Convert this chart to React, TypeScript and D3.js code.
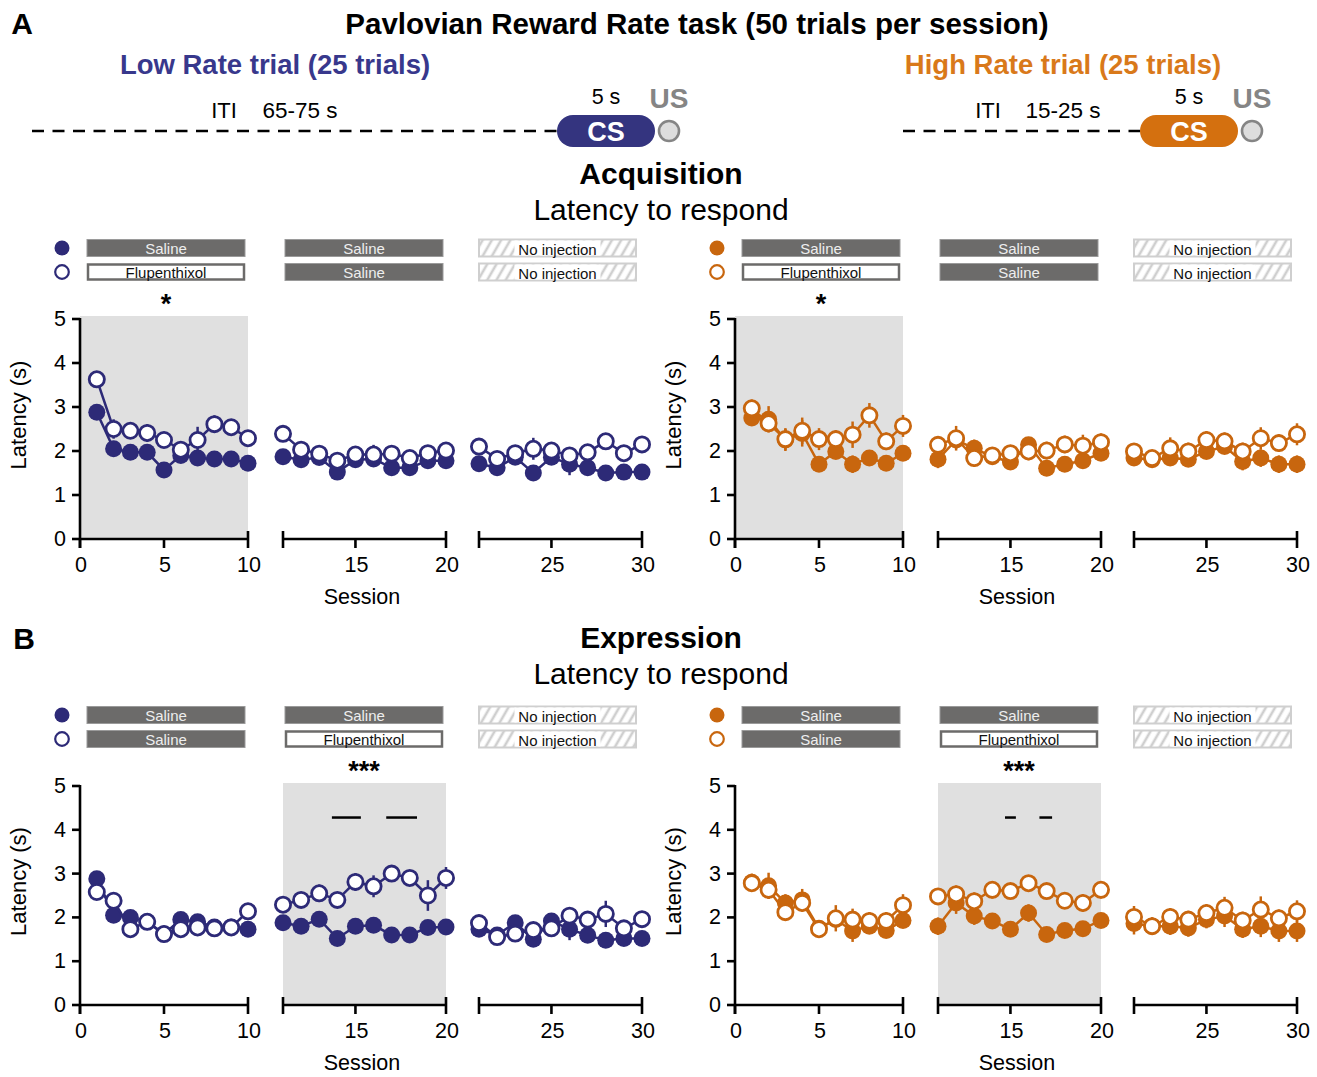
import React from 'react';
import * as d3 from 'd3';

// session categories
const sessions = d3.range(1, 31);

// Acquisition, Low Rate trial
const acqLowSal = [2.88, 2.05, 1.97, 1.97, 1.57, 1.9, 1.84, 1.82, 1.82, 1.72, 1.87, 1.8, 1.85, 1.52, 1.8, 1.82, 1.62, 1.62, 1.78, 1.78, 1.71, 1.62, 1.86, 1.5, 1.86, 1.7, 1.62, 1.5, 1.52, 1.52];
const acqLowFlu = [3.63, 2.5, 2.46, 2.41, 2.25, 2.03, 2.25, 2.61, 2.54, 2.29, 2.39, 2.03, 1.94, 1.78, 1.92, 1.92, 1.94, 1.84, 1.95, 2.01, 2.1, 1.82, 1.95, 2.05, 2.01, 1.9, 1.97, 2.22, 1.95, 2.15];
const acqLowSalSem = [0.12, 0.1, 0.1, 0.1, 0.1, 0.1, 0.1, 0.1, 0.1, 0.1, 0.1, 0.1, 0.1, 0.1, 0.1, 0.1, 0.1, 0.1, 0.1, 0.1, 0.1, 0.1, 0.1, 0.1, 0.1, 0.25, 0.1, 0.1, 0.1, 0.1];
const acqLowFluSem = [0.1, 0.22, 0.12, 0.2, 0.15, 0.12, 0.3, 0.2, 0.15, 0.12, 0.1, 0.1, 0.1, 0.12, 0.15, 0.22, 0.12, 0.1, 0.12, 0.12, 0.1, 0.1, 0.12, 0.25, 0.12, 0.1, 0.12, 0.15, 0.12, 0.12];

// Acquisition, High Rate trial
const acqHighSal = [2.75, 2.72, 2.25, 2.4, 1.7, 1.99, 1.7, 1.84, 1.72, 1.95, 1.81, 2.25, 2.06, 1.87, 1.75, 2.14, 1.61, 1.7, 1.78, 1.95, 1.84, 1.8, 1.84, 1.81, 1.99, 2.1, 1.76, 1.84, 1.7, 1.7];
const acqHighFlu = [2.97, 2.63, 2.27, 2.46, 2.27, 2.27, 2.37, 2.81, 2.22, 2.57, 2.14, 2.29, 1.84, 1.9, 1.95, 1.99, 2.01, 2.15, 2.12, 2.2, 1.99, 1.84, 2.06, 1.99, 2.25, 2.22, 1.99, 2.29, 2.18, 2.38];
const acqHighSalSem = [0.18, 0.3, 0.25, 0.3, 0.15, 0.15, 0.2, 0.15, 0.15, 0.15, 0.2, 0.2, 0.2, 0.15, 0.15, 0.15, 0.15, 0.15, 0.15, 0.15, 0.15, 0.15, 0.15, 0.15, 0.15, 0.15, 0.2, 0.2, 0.2, 0.2];
const acqHighFluSem = [0.2, 0.2, 0.25, 0.3, 0.25, 0.2, 0.3, 0.28, 0.2, 0.25, 0.2, 0.28, 0.2, 0.15, 0.15, 0.2, 0.2, 0.2, 0.25, 0.2, 0.15, 0.15, 0.25, 0.2, 0.2, 0.2, 0.2, 0.25, 0.2, 0.25];

// Expression, Low Rate trial
const expLowSal = [2.88, 2.05, 2.0, 1.9, 1.62, 1.95, 1.9, 1.78, 1.78, 1.73, 1.88, 1.8, 1.96, 1.52, 1.8, 1.82, 1.6, 1.6, 1.77, 1.78, 1.73, 1.6, 1.88, 1.5, 1.92, 1.73, 1.59, 1.48, 1.52, 1.52];
const expLowFlu = [2.58, 2.38, 1.73, 1.9, 1.62, 1.73, 1.77, 1.75, 1.77, 2.14, 2.29, 2.4, 2.55, 2.4, 2.81, 2.71, 3.0, 2.9, 2.5, 2.9, 1.87, 1.55, 1.63, 1.71, 1.75, 2.04, 1.95, 2.08, 1.75, 1.96];
const expLowSalSem = [0.15, 0.1, 0.12, 0.12, 0.1, 0.12, 0.12, 0.1, 0.1, 0.1, 0.12, 0.1, 0.12, 0.1, 0.1, 0.1, 0.1, 0.1, 0.1, 0.12, 0.1, 0.1, 0.12, 0.1, 0.12, 0.25, 0.1, 0.1, 0.1, 0.1];
const expLowFluSem = [0.12, 0.12, 0.1, 0.15, 0.1, 0.12, 0.1, 0.1, 0.1, 0.15, 0.12, 0.12, 0.2, 0.15, 0.2, 0.25, 0.15, 0.15, 0.35, 0.25, 0.1, 0.1, 0.1, 0.1, 0.12, 0.15, 0.1, 0.3, 0.12, 0.12];

// Expression, High Rate trial
const expHighSal = [2.8, 2.72, 2.33, 2.4, 1.75, 1.95, 1.69, 1.8, 1.7, 1.93, 1.8, 2.33, 2.03, 1.92, 1.73, 2.1, 1.61, 1.7, 1.74, 1.93, 1.86, 1.8, 1.8, 1.76, 1.95, 2.03, 1.73, 1.8, 1.69, 1.69];
const expHighFlu = [2.78, 2.63, 2.12, 2.33, 1.73, 1.98, 1.95, 1.92, 1.92, 2.28, 2.48, 2.53, 2.37, 2.63, 2.6, 2.78, 2.6, 2.38, 2.33, 2.63, 2.01, 1.8, 2.01, 1.95, 2.1, 2.22, 1.93, 2.18, 1.98, 2.14];
const expHighSalSem = [0.2, 0.3, 0.2, 0.25, 0.15, 0.15, 0.25, 0.15, 0.15, 0.15, 0.2, 0.25, 0.2, 0.15, 0.15, 0.2, 0.15, 0.15, 0.15, 0.15, 0.25, 0.2, 0.2, 0.2, 0.2, 0.25, 0.2, 0.25, 0.25, 0.25];
const expHighFluSem = [0.15, 0.2, 0.2, 0.2, 0.2, 0.3, 0.25, 0.2, 0.2, 0.25, 0.15, 0.2, 0.2, 0.2, 0.15, 0.15, 0.15, 0.15, 0.2, 0.2, 0.25, 0.2, 0.2, 0.2, 0.2, 0.25, 0.2, 0.3, 0.2, 0.25];

// legend labels per block (filled row / open row)
const acqFilledLabels = ['Saline', 'Saline', 'No injection'];
const acqOpenLabels = ['Flupenthixol', 'Saline', 'No injection'];
const expFilledLabels = ['Saline', 'Saline', 'No injection'];
const expOpenLabels = ['Saline', 'Flupenthixol', 'No injection'];

// session blocks (axis domain + ticks)
const blockDomains = [[0, 10], [11, 20], [21, 30]];
const blockTicks = [[0, 5, 10], [11, 15, 20], [21, 25, 30]];
const yTicks = [0, 1, 2, 3, 4, 5];

// significance bars in expression (session ranges), and their level
const sigLow = [[13.7, 15.3], [16.7, 18.4]];
const sigHigh = [[14.7, 15.3], [16.6, 17.3]];
const sigLevel = 4.28;

const NAVY = '#2d2a77';
const NAVY_TXT = '#38388c';
const ORANGE = '#c8660e';
const ORANGE_TXT = '#d9791a';
const FONT = '"Liberation Sans", Arial, sans-serif';
const BAR_GRAY = '#6c6b6a';

const segPx = [[80, 248], [283, 446], [479, 642]];
const legendPx = [[87, 245], [285, 443], [479, 636]];

function LegendBar({ x0, x1, y, label }: { x0: number; x1: number; y: number; label: string }) {
  const h = 17;
  const cx = (x0 + x1) / 2;
  if (label === 'No injection') {
    return (
      <g>
        <rect x={x0} y={y - h / 2} width={x1 - x0} height={h} fill="url(#hatch)" stroke="#cfcfcf" strokeWidth={2} />
        <rect x={cx - 43} y={y - h / 2 + 1} width={86} height={h - 2} fill="#fff" />
        <text x={cx} y={y + 1} textAnchor="middle" dominantBaseline="central" fontSize={15} fill="#111">{label}</text>
      </g>
    );
  }
  if (label === 'Flupenthixol') {
    return (
      <g>
        <rect x={x0 + 1} y={y - h / 2 + 1} width={x1 - x0 - 2} height={h - 2} fill="#fff" stroke={BAR_GRAY} strokeWidth={2.5} />
        <text x={cx} y={y} textAnchor="middle" dominantBaseline="central" fontSize={15} fill="#111">{label}</text>
      </g>
    );
  }
  return (
    <g>
      <rect x={x0} y={y - h / 2} width={x1 - x0} height={h} fill={BAR_GRAY} stroke="#9a9a9a" strokeWidth={1} />
      <text x={cx} y={y} textAnchor="middle" dominantBaseline="central" fontSize={15} fill="#eeeeee">{label}</text>
    </g>
  );
}

type PanelProps = {
  dx: number;
  y0: number;
  y5: number;
  color: string;
  filled: number[];
  open: number[];
  filledSem: number[];
  openSem: number[];
  filledLabels: string[];
  openLabels: string[];
  shaded: number;
  star: string;
  sig?: number[][];
};

function Panel(p: PanelProps) {
  const y = d3.scaleLinear().domain([0, 5]).range([p.y0, p.y5]);
  const xs = blockDomains.map((d, i) =>
    d3.scaleLinear().domain(d).range([segPx[i][0] + p.dx, segPx[i][1] + p.dx])
  );
  const blockOf = (s: number) => (s <= 10 ? 0 : s <= 20 ? 1 : 2);
  const px = (s: number) => xs[blockOf(s)](s);

  const series = (vals: number[], sem: number[], isOpen: boolean, key: string) => (
    <g key={key}>
      {[0, 1, 2].map((b) => {
        const idx = sessions.map((_, i) => i).filter((i) => blockOf(sessions[i]) === b);
        const path = d3.line<number>().x((i) => px(sessions[i])).y((i) => y(vals[i]))(idx) || '';
        return <path key={b} d={path} fill="none" stroke={p.color} strokeWidth={2.5} />;
      })}
      {sessions.map((s, i) => (
        <line key={'e' + i} x1={px(s)} x2={px(s)} y1={y(vals[i] - sem[i])} y2={y(vals[i] + sem[i])} stroke={p.color} strokeWidth={2.5} />
      ))}
      {sessions.map((s, i) => (
        <circle key={'c' + i} cx={px(s)} cy={y(vals[i])} r={isOpen ? 7.6 : 8.5}
          fill={isOpen ? '#fff' : p.color} stroke={isOpen ? p.color : 'none'} strokeWidth={2.8} />
      ))}
    </g>
  );

  const shadeX0 = xs[p.shaded].range()[0];
  const shadeX1 = xs[p.shaded].range()[1];
  const starX = (legendPx[p.shaded][0] + legendPx[p.shaded][1]) / 2 + p.dx;
  const rowF = p.y5 - 71;
  const rowO = p.y5 - 47;
  const midX0 = xs[0].range()[0];
  const endX = xs[2].range()[1];

  return (
    <g fontFamily={FONT}>
      {/* legend */}
      <circle cx={62 + p.dx} cy={rowF} r={7.5} fill={p.color} />
      <circle cx={62 + p.dx} cy={rowO} r={6.8} fill="#fff" stroke={p.color} strokeWidth={2.2} />
      {legendPx.map((l, i) => (
        <g key={i}>
          <LegendBar x0={l[0] + p.dx} x1={l[1] + p.dx} y={rowF} label={p.filledLabels[i]} />
          <LegendBar x0={l[0] + p.dx} x1={l[1] + p.dx} y={rowO} label={p.openLabels[i]} />
        </g>
      ))}
      <text x={starX} y={p.y5 - 6} textAnchor="middle" fontSize={27} fontWeight="bold">{p.star}</text>

      {/* shading */}
      <rect x={shadeX0} y={p.y5 - 3} width={shadeX1 - shadeX0} height={p.y0 - p.y5 + 3} fill="#e0e0e0" />

      {/* y axis */}
      <line x1={midX0} x2={midX0} y1={p.y5 - 1} y2={p.y0 + 9} stroke="#000" strokeWidth={2.6} />
      {yTicks.map((t) => (
        <g key={t}>
          <line x1={midX0 - 8} x2={midX0} y1={y(t)} y2={y(t)} stroke="#000" strokeWidth={2.6} />
          <text x={midX0 - 14} y={y(t)} textAnchor="end" dominantBaseline="central" fontSize={21.5}>{t}</text>
        </g>
      ))}
      <text transform={`translate(${midX0 - 62},${(p.y0 + p.y5) / 2 - 14}) rotate(-90)`} textAnchor="middle" dominantBaseline="central" fontSize={22}>Latency (s)</text>

      {/* x axis blocks */}
      {xs.map((sc, b) => (
        <g key={b}>
          <line x1={sc.range()[0]} x2={sc.range()[1]} y1={p.y0} y2={p.y0} stroke="#000" strokeWidth={2.6} />
          {blockTicks[b].map((t, k) => {
            const isEnd = k === 0 || k === blockTicks[b].length - 1;
            const up = isEnd && !(b === 0 && k === 0) ? 8 : 0;
            return (
              <g key={t}>
                <line x1={sc(t)} x2={sc(t)} y1={p.y0 - up} y2={p.y0 + 9} stroke="#000" strokeWidth={2.6} />
                {t % 5 === 0 && (
                  <text x={sc(t) + 1} y={p.y0 + 26} textAnchor="middle" dominantBaseline="central" fontSize={21.5}>{t}</text>
                )}
              </g>
            );
          })}
        </g>
      ))}
      <text x={(midX0 + endX) / 2 + 1} y={p.y0 + 58} textAnchor="middle" dominantBaseline="central" fontSize={21.5}>Session</text>

      {/* significance bars */}
      {(p.sig || []).map((s, i) => (
        <line key={i} x1={xs[1](s[0])} x2={xs[1](s[1])} y1={y(sigLevel)} y2={y(sigLevel)} stroke="#000" strokeWidth={2.5} />
      ))}

      {series(p.filled, p.filledSem, false, 'f')}
      {series(p.open, p.openSem, true, 'o')}
    </g>
  );
}

type DiagramProps = {
  x0: number; x1: number; color: string; titleColor: string; title: string;
  titleX: number; iti: string; itiX: number; rangeX: number;
};

function TrialDiagram({ x0, x1, color, titleColor, title, titleX, iti, itiX, rangeX }: DiagramProps) {
  const cy = 131;
  const csW = 98;
  return (
    <g fontFamily={FONT}>
      <text x={titleX} y={64} textAnchor="middle" dominantBaseline="central" fontSize={27.5} fontWeight="bold" fill={titleColor}>{title}</text>
      <line x1={x0} x2={x1} y1={cy} y2={cy} stroke="#000" strokeWidth={2.6} strokeDasharray="12,8.5" />
      <text x={itiX} y={110} textAnchor="middle" dominantBaseline="central" fontSize={22}>ITI</text>
      <text x={rangeX} y={110} textAnchor="middle" dominantBaseline="central" fontSize={22.5}>{iti}</text>
      <rect x={x1} y={cy - 16} width={csW} height={32} rx={16} fill={color} />
      <text x={x1 + csW / 2} y={cy + 1} textAnchor="middle" dominantBaseline="central" fontSize={27} fontWeight="bold" fill="#fff">CS</text>
      <text x={x1 + csW / 2} y={97} textAnchor="middle" dominantBaseline="central" fontSize={21.5}>5 s</text>
      <circle cx={x1 + csW + 14} cy={cy} r={10} fill="#dddddd" stroke="#858585" strokeWidth={2.6} />
      <text x={x1 + csW + 14} y={98} textAnchor="middle" dominantBaseline="central" fontSize={28} fontWeight="bold" fill="#858585">US</text>
    </g>
  );
}

export default function App() {
  return (
    <svg width={1317} height={1077} style={{ position: 'absolute', left: 0, top: 0, background: '#fff' }}>
      <defs>
        <pattern id="hatch" patternUnits="userSpaceOnUse" width={8} height={8} patternTransform="rotate(30)">
          <rect width={8} height={8} fill="#fff" />
          <line x1={2} y1={0} x2={2} y2={8} stroke="#cfcfcf" strokeWidth={2.6} />
        </pattern>
      </defs>
      <g fontFamily={FONT}>
        <text x={22} y={23} textAnchor="middle" dominantBaseline="central" fontSize={30} fontWeight="bold">A</text>
        <text x={697} y={23} textAnchor="middle" dominantBaseline="central" fontSize={29.5} fontWeight="bold">Pavlovian Reward Rate task (50 trials per session)</text>
        <text x={661} y={173} textAnchor="middle" dominantBaseline="central" fontSize={30} fontWeight="bold">Acquisition</text>
        <text x={661} y={209} textAnchor="middle" dominantBaseline="central" fontSize={30}>Latency to respond</text>
        <text x={24} y={638} textAnchor="middle" dominantBaseline="central" fontSize={30} fontWeight="bold">B</text>
        <text x={661} y={637} textAnchor="middle" dominantBaseline="central" fontSize={30} fontWeight="bold">Expression</text>
        <text x={661} y={673} textAnchor="middle" dominantBaseline="central" fontSize={30}>Latency to respond</text>
      </g>

      <TrialDiagram x0={32} x1={557} color="#34347f" titleColor={NAVY_TXT} title="Low Rate trial (25 trials)" titleX={275} iti="65-75 s" itiX={224} rangeX={300} />
      <TrialDiagram x0={903} x1={1140} color="#d4700f" titleColor={ORANGE_TXT} title="High Rate trial (25 trials)" titleX={1063} iti="15-25 s" itiX={988} rangeX={1063} />

      <Panel dx={0} y0={539} y5={319} color={NAVY} filled={acqLowSal} open={acqLowFlu} filledSem={acqLowSalSem} openSem={acqLowFluSem}
        filledLabels={acqFilledLabels} openLabels={acqOpenLabels} shaded={0} star="*" />
      <Panel dx={655} y0={539} y5={319} color={ORANGE} filled={acqHighSal} open={acqHighFlu} filledSem={acqHighSalSem} openSem={acqHighFluSem}
        filledLabels={acqFilledLabels} openLabels={acqOpenLabels} shaded={0} star="*" />
      <Panel dx={0} y0={1005} y5={786} color={NAVY} filled={expLowSal} open={expLowFlu} filledSem={expLowSalSem} openSem={expLowFluSem}
        filledLabels={expFilledLabels} openLabels={expOpenLabels} shaded={1} star="***" sig={sigLow} />
      <Panel dx={655} y0={1005} y5={786} color={ORANGE} filled={expHighSal} open={expHighFlu} filledSem={expHighSalSem} openSem={expHighFluSem}
        filledLabels={expFilledLabels} openLabels={expOpenLabels} shaded={1} star="***" sig={sigHigh} />
    </svg>
  );
}
